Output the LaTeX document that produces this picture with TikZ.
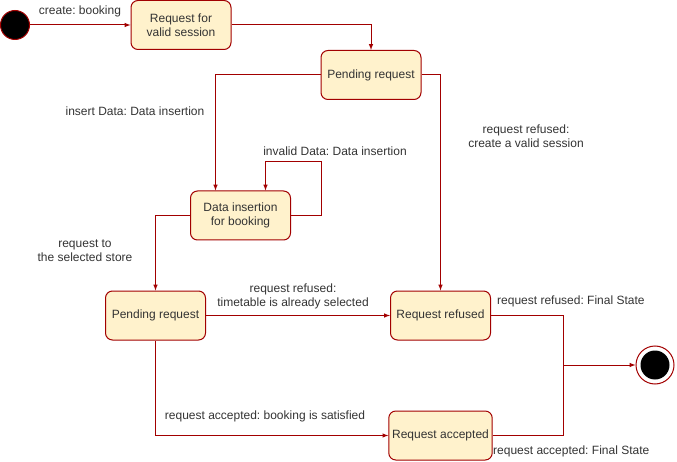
\documentclass[tikz,border=0pt]{standalone}
\usepackage{fontspec}
\setmainfont{Liberation Sans}
\frenchspacing
\definecolor{edgered}{HTML}{A20000}
\definecolor{boxfill}{HTML}{FFF2CC}
\definecolor{txtgray}{HTML}{333333}
\begin{document}
\begin{tikzpicture}[x=1pt, y=-1pt,
  state/.style={draw=edgered, fill=boxfill, line width=1pt, rounded corners=7pt,
    minimum width=100pt, minimum height=49pt, align=center, text=txtgray,
    font=\fontsize{12}{14}\selectfont},
  lbl/.style={align=center, text=txtgray, inner sep=0pt, font=\fontsize{12}{14}\selectfont},
  tr/.style={draw=edgered, line width=1pt, -latex},
  ln/.style={draw=edgered, line width=1pt}]

\useasboundingbox (0,0) rectangle (677,462);

\node[circle, draw=edgered, fill=black, line width=1pt, minimum size=29pt, inner sep=0pt] (start) at (15,25) {};

\node[state] (req) at (181,25) {Request for\\valid session};
\node[state] (pend) at (371,75) {Pending request};
\node[state] (dat) at (240.5,215.5) {Data insertion\\for booking};
\node[state] (pend2) at (155.5,315.5) {Pending request};
\node[state] (ref) at (440.5,315.5) {Request refused};
\node[state] (acc) at (440.5,435.5) {Request accepted};

\node[circle, draw=edgered, line width=1pt, minimum size=38pt, inner sep=0pt] (fin) at (655,365) {};
\fill[black] (fin) circle (14.5pt);
\coordinate (mrg) at (563,365);

\draw[tr] (start) -- (req);
\draw[tr] (req.east) -| (pend.north);
\draw[tr] (pend.west) -| ([xshift=-25pt]dat.north);
\draw[tr] (pend.east) -| (ref.north);
\draw[tr] (dat.east) -- ++(30,0) -- ++(0,-54) -| ([xshift=25pt]dat.north);
\draw[tr] (dat.west) -| (pend2.north);
\draw[tr] (pend2.east) -- (ref.west);
\draw[tr] (pend2.south) |- (acc.west);
\draw[ln] (ref.east) -| (mrg);
\draw[ln] (acc.east) -| (mrg);
\draw[tr] (mrg) -- (fin);

\node[lbl] (l1) at (80,11) {create: booking};
\node[lbl] (l2) at (135,111) {insert Data: Data insertion};
\node[lbl] (l3) at (526,136) {request refused:\\create a valid session};
\node[lbl] (l4) at (335,151) {invalid Data: Data insertion};
\node[lbl] (l5) at (85,251) {request to\\the selected store};
\node[lbl] (l6) at (293,296) {request refused:\\timetable is already selected};
\node[lbl] (l7) at (265,416) {request accepted: booking is satisfied};
\node[lbl, anchor=west] (l8) at (497,301) {request refused: Final State};
\node[lbl, anchor=west] (l9) at (493,451) {request accepted: Final State};

\end{tikzpicture}
\end{document}
